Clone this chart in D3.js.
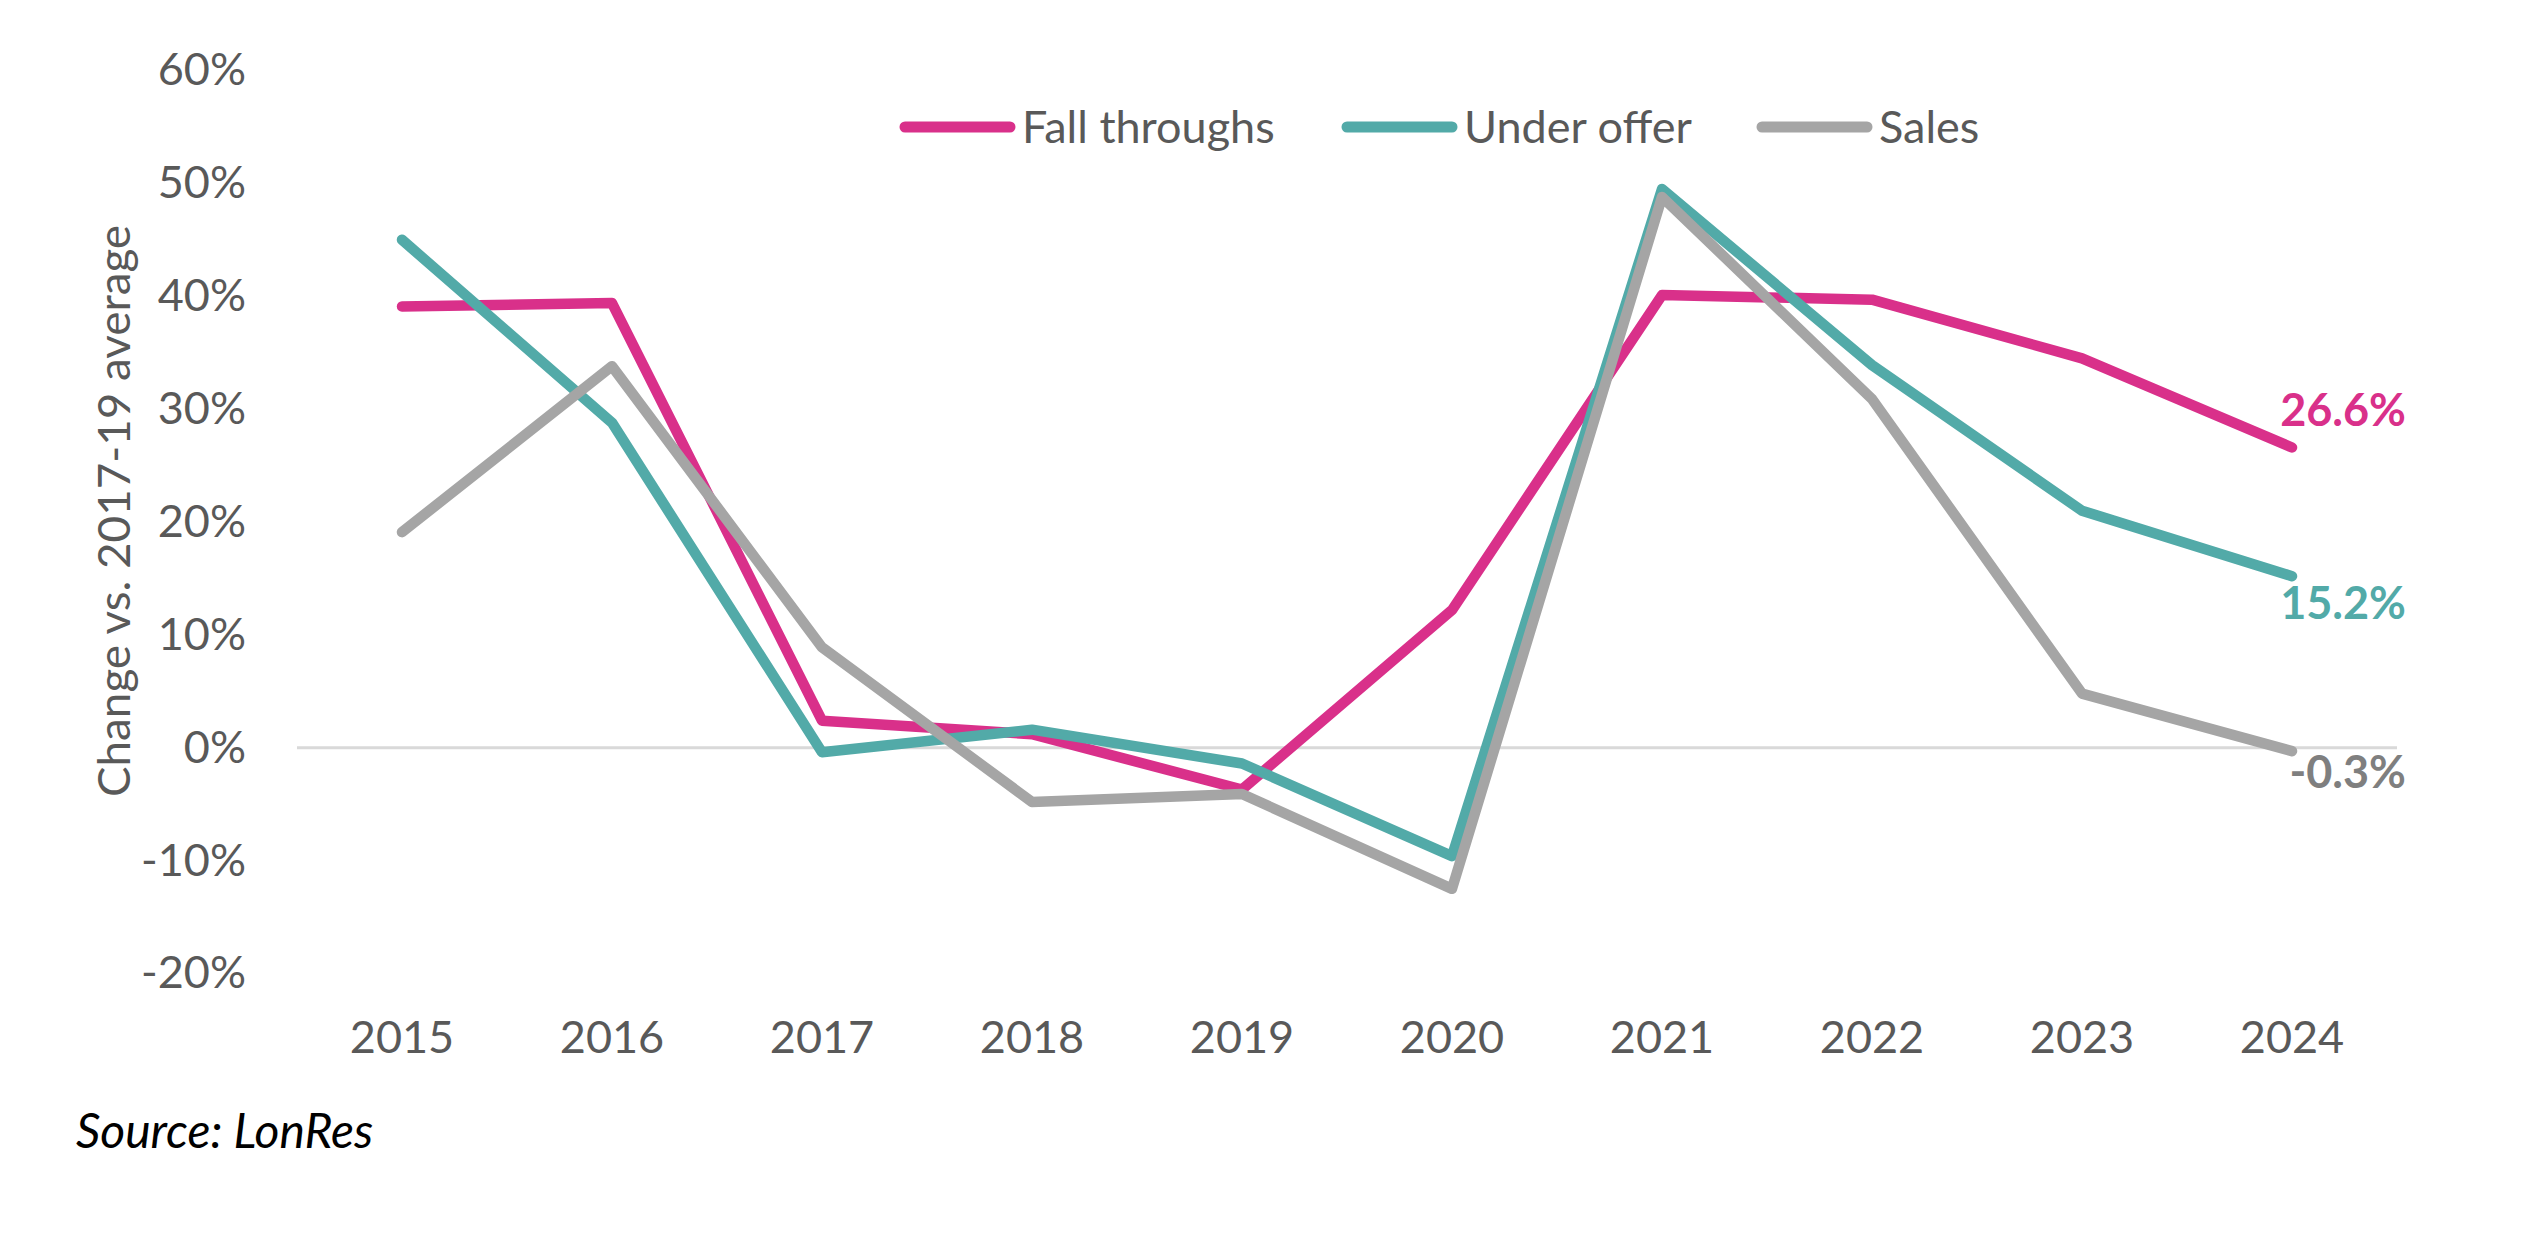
<!DOCTYPE html>
<html><head><meta charset="utf-8">
<script src="https://cdn.jsdelivr.net/npm/d3@7"></script>
<style>body{margin:0;background:#fff;} svg{display:block;}</style>
</head><body>
<svg id="c" width="2526" height="1250"></svg>
<script>
const years = ["2015","2016","2017","2018","2019","2020","2021","2022","2023","2024"];
const fallThroughs = [39.1, 39.4, 2.4, 1.2, -3.7, 12.2, 40.1, 39.7, 34.5, 26.6];
const underOffer   = [45.0, 28.8, -0.4, 1.6, -1.4, -9.6, 49.5, 33.9, 21.0, 15.2];
const sales        = [19.1, 33.8, 8.9, -4.8, -4.1, -12.5, 48.8, 30.9, 4.8, -0.3];
const yTicks = [-20, -10, 0, 10, 20, 30, 40, 50, 60];
const seriesNames = ["Fall throughs", "Under offer", "Sales"];
const endLabels = ["26.6%", "15.2%", "-0.3%"];

const colors = ["#D9308A", "#52AAA8", "#A5A5A5"];
const labelColors = ["#D9308A", "#52AAA8", "#7F7F7F"];
const series = [fallThroughs, underOffer, sales];

const svg = d3.select("#c");
const x = d3.scaleBand().domain(years).range([297, 2397]);
const y = d3.scaleLinear().domain([-20, 60]).range([973.5, 70.5]);
const font = "Lato, 'Open Sans', sans-serif";

// zero line
svg.append("line").attr("x1", 297).attr("x2", 2397)
  .attr("y1", y(0)).attr("y2", y(0))
  .attr("stroke", "#D9D9D9").attr("stroke-width", 3);

// y axis labels
const yAxis = d3.axisLeft(y).tickValues(yTicks).tickFormat(d => d + "%").tickSize(0).tickPadding(0);
const ya = svg.append("g").attr("transform", "translate(246,0)").call(yAxis);
ya.select(".domain").remove();
ya.selectAll("text").attr("font-family", font).attr("font-size", 45).attr("fill", "#595959");

// x axis labels
const xAxis = d3.axisBottom(x).tickSize(0).tickPadding(0);
const xa = svg.append("g").attr("transform", "translate(0,1021)").call(xAxis);
xa.select(".domain").remove();
xa.selectAll("text").attr("font-family", font).attr("font-size", 45).attr("fill", "#595959");

// y title
svg.append("text").attr("transform", "translate(130,511) rotate(-90)")
  .attr("text-anchor", "middle").attr("font-family", font).attr("font-size", 45)
  .attr("fill", "#595959").attr("textLength", 572).attr("lengthAdjust", "spacingAndGlyphs")
  .text("Change vs. 2017-19 average");

// lines
const line = d3.line().x((d, i) => x(years[i]) + x.bandwidth() / 2).y(d => y(d));
series.forEach((s, k) => {
  svg.append("path").datum(s).attr("d", line).attr("fill", "none")
    .attr("stroke", colors[k]).attr("stroke-width", 10.5)
    .attr("stroke-linecap", "round").attr("stroke-linejoin", "round");
});

// end labels
const endY = [426, 619, 788];
endLabels.forEach((t, k) => {
  svg.append("text").attr("x", 2406).attr("y", endY[k]).attr("text-anchor", "end")
    .attr("font-family", font).attr("font-weight", "bold").attr("font-size", 45)
    .attr("fill", labelColors[k]).text(t);
});

// legend
const legX = [900, 1342, 1757];
seriesNames.forEach((n, k) => {
  svg.append("line").attr("x1", legX[k] + 5).attr("x2", legX[k] + 110)
    .attr("y1", 127).attr("y2", 127).attr("stroke", colors[k]).attr("stroke-width", 11)
    .attr("stroke-linecap", "round");
  svg.append("text").attr("x", legX[k] + 122).attr("y", 143)
    .attr("font-family", font).attr("font-size", 45).attr("fill", "#595959").text(n);
});

// source
svg.append("text").attr("x", 76).attr("y", 1148).attr("font-family", font)
  .attr("font-style", "italic").attr("font-size", 48).attr("fill", "#000").text("Source: LonRes");
</script>
</body></html>
